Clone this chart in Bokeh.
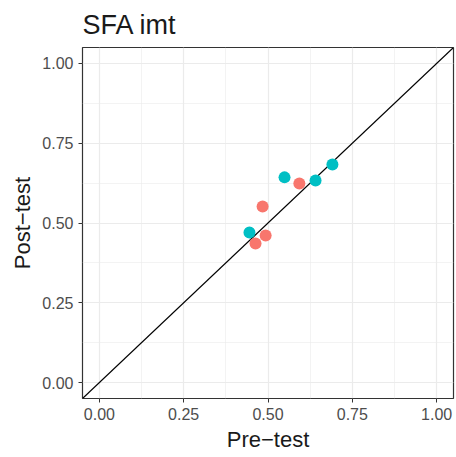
from bokeh.plotting import figure
from bokeh.models import FixedTicker, Range1d, CustomJSTickFormatter
from bokeh.embed import file_html
from bokeh.resources import INLINE

pre_a = [0.445, 0.549, 0.641, 0.691]
post_a = [0.470, 0.643, 0.633, 0.683]
pre_b = [0.463, 0.484, 0.493, 0.593]
post_b = [0.436, 0.552, 0.461, 0.624]
ticks = [0.0, 0.25, 0.5, 0.75, 1.0]
minor = [0.125, 0.375, 0.625, 0.875]
diag = [-0.05, 1.05]
title_text = "SFA imt"

p = figure(width=455, height=457, output_backend="svg", toolbar_location=None,
           x_range=Range1d(-0.05, 1.05), y_range=Range1d(-0.05, 1.05),
           min_border_left=82, min_border_right=2, min_border_top=47, min_border_bottom=59,
           title=title_text)
p.title.text_font = "Liberation Sans"
p.title.text_font_size = "27px"
p.title.text_font_style = "normal"
p.title.text_color = "#1a1a1a"
p.title.offset = 0
p.title.standoff = 11
p.title.vertical_align = "top"

p.background_fill_color = "white"
p.outline_line_color = "#333333"
p.outline_line_width = 1.2

for ax in (p.xaxis[0], p.yaxis[0]):
    ax.ticker = FixedTicker(ticks=ticks, minor_ticks=minor)
    ax.axis_line_color = None
    ax.major_tick_in = 0
    ax.major_tick_out = 4
    ax.major_tick_line_color = "#333333"
    ax.minor_tick_in = 0
    ax.minor_tick_out = 0
    ax.major_label_text_font = "Liberation Sans"
    ax.major_label_text_font_size = "16px"
    ax.major_label_text_color = "#4d4d4d"
    ax.axis_label_text_font = "Liberation Sans"
    ax.axis_label_text_font_size = "22px"
    ax.axis_label_text_font_style = "normal"
    ax.axis_label_text_color = "#1a1a1a"
    ax.major_label_standoff = 5
    ax.axis_label_standoff = 4
    ax.formatter = CustomJSTickFormatter(code="return tick.toFixed(2);")

p.xaxis.axis_label = "Pre\u2212test"
p.yaxis.axis_label = "Post\u2212test"

for g in (p.xgrid[0], p.ygrid[0]):
    g.grid_line_color = "#ebebeb"
    g.grid_line_width = 1.2
    g.minor_grid_line_color = "#ebebeb"
    g.minor_grid_line_width = 0.6

p.line(diag, diag, line_color="black", line_width=1.1)
p.scatter(pre_b, post_b, size=12, fill_color="#F8766D", line_color=None)
p.scatter(pre_a, post_a, size=12, fill_color="#00BFC4", line_color=None)

open("out.html", "w").write(file_html(p, INLINE))
